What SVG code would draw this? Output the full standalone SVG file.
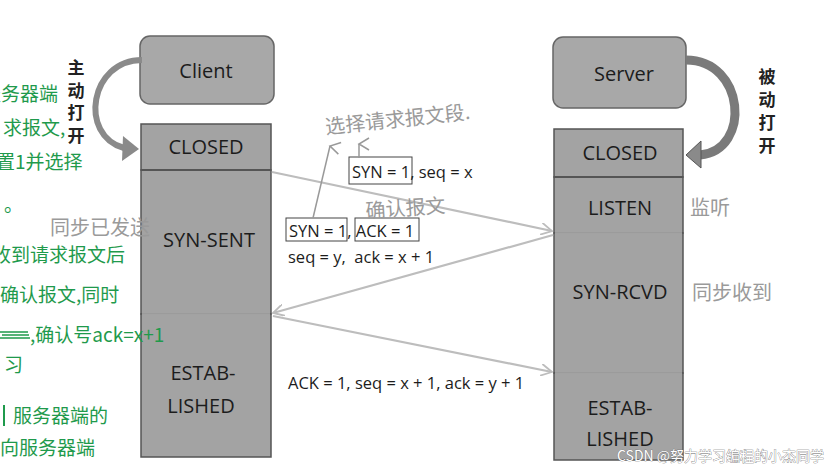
<svg xmlns="http://www.w3.org/2000/svg" width="839" height="473" viewBox="0 0 839 473">
<defs>
<style>
.box{fill:#a8a8a8;stroke:#666;stroke-width:1.5}
.col{fill:#a3a3a3;stroke:#555;stroke-width:1.5}
.dark{stroke:#555;stroke-width:2}
.light{stroke:#dcdcdc;stroke-width:1.2}
.st{font-family:"Open Sans","Liberation Sans",sans-serif;font-size:20px;fill:#1c1c1c;text-anchor:middle}
.lbl{font-family:"Open Sans","Liberation Sans",sans-serif;font-size:16.5px;fill:#1c1c1c}
.cn{font-family:"Noto Sans CJK SC",sans-serif;font-size:17px;font-weight:bold;fill:#222;text-anchor:middle}
.gr{font-family:"Noto Sans CJK SC",sans-serif;font-size:19px;fill:#1f9a4c}
.hw{font-family:"Noto Sans CJK SC",sans-serif;font-size:20px;fill:#9a9a9a}
.conn{stroke:#bdbdbd;stroke-width:2.2;fill:none}
.tag{fill:none;stroke:#444;stroke-width:1}
</style>
<marker id="ah" viewBox="0 0 12 12" refX="11" refY="6" markerWidth="12" markerHeight="12" markerUnits="userSpaceOnUse" orient="auto">
<path d="M0,0 L11,6 L0,12" fill="none" stroke="#bdbdbd" stroke-width="1.8"/>
</marker>
<marker id="ph" viewBox="0 0 14 14" refX="7" refY="2" markerWidth="14" markerHeight="14" markerUnits="userSpaceOnUse" orient="auto-start-reverse">
<path d="M1,12 L7,2 L13,12" fill="none" stroke="#999" stroke-width="1.5"/>
</marker>
</defs>
<rect width="839" height="473" fill="#fff"/>

<g id="client">
<rect class="box" x="140" y="36" width="134" height="68" rx="10"/>
<text class="st" x="206" y="78" font-size="22">Client</text>
</g>
<g id="client-closed">
<rect class="col" x="141" y="124" width="130" height="46"/>
<text class="st" x="206" y="154">CLOSED</text>
</g>
<g id="client-synsent">
<rect class="col" x="141" y="170" width="130" height="144"/>
<text class="st" x="209" y="247">SYN-SENT</text>
</g>
<g id="client-established">
<rect class="col" x="141" y="314" width="130" height="143"/>
<text class="st" x="203" y="380">ESTAB-</text>
<text class="st" x="201" y="413">LISHED</text>
</g>
<line class="dark" x1="141" y1="170" x2="271" y2="170"/>
<line class="light" x1="142" y1="314" x2="270" y2="314"/>

<g id="server">
<rect class="box" x="553" y="37" width="133" height="71" rx="10"/>
<text class="st" x="624" y="81" font-size="22">Server</text>
</g>
<g id="server-closed">
<rect class="col" x="554" y="129" width="129" height="48"/>
<text class="st" x="620" y="160">CLOSED</text>
</g>
<g id="server-listen">
<rect class="col" x="554" y="177" width="129" height="56"/>
<text class="st" x="620" y="215">LISTEN</text>
</g>
<g id="server-synrcvd">
<rect class="col" x="554" y="233" width="129" height="140"/>
<text class="st" x="620" y="299">SYN-RCVD</text>
</g>
<g id="server-established">
<rect class="col" x="554" y="373" width="129" height="87"/>
<text class="st" x="620" y="415">ESTAB-</text>
<text class="st" x="620" y="446">LISHED</text>
</g>
<line class="dark" x1="554" y1="177" x2="683" y2="177"/>
<line class="light" x1="555" y1="233" x2="682" y2="233"/>
<line class="light" x1="555" y1="373" x2="682" y2="373"/>

<g id="open-arrows">
<path d="M142,60 C90,60 78,135 124,148" fill="none" stroke="#8a8a8a" stroke-width="6"/>
<polygon points="123,136 139,149 122,161" fill="#8a8a8a"/>
<path d="M686,60 C745,60 752,150 700,155" fill="none" stroke="#7a7a7a" stroke-width="9"/>
<polygon points="701,141 686,155 701,168" fill="#8a8a8a" stroke="#555" stroke-width="1"/>
</g>
<g id="open-labels">
<text class="cn" x="76" y="74">主</text>
<text class="cn" x="76" y="97">动</text>
<text class="cn" x="76" y="119">打</text>
<text class="cn" x="76" y="142">开</text>
<text class="cn" x="767" y="83">被</text>
<text class="cn" x="767" y="106">动</text>
<text class="cn" x="767" y="129">打</text>
<text class="cn" x="767" y="152">开</text>
</g>

<g id="connectors">
<line class="conn" x1="272" y1="172" x2="552" y2="231" marker-end="url(#ah)"/>
<line class="conn" x1="553" y1="235" x2="273" y2="313" marker-end="url(#ah)"/>
<line class="conn" x1="273" y1="316" x2="552" y2="372" marker-end="url(#ah)"/>
</g>

<g id="labels">
<rect class="tag" x="349" y="157" width="63" height="27"/>
<text class="lbl" x="352" y="178">SYN = 1, seq = x</text>
<rect class="tag" x="286" y="218" width="61" height="23"/>
<rect class="tag" x="355" y="218" width="64" height="23"/>
<text class="lbl" x="289" y="237">SYN = 1, ACK = 1</text>
<text class="lbl" x="288" y="263" xml:space="preserve">seq = y,  ack = x + 1</text>
<text class="lbl" x="288" y="389">ACK = 1, seq = x + 1, ack = y + 1</text>
</g>

<g id="pencil-notes">
<line x1="313" y1="218" x2="330" y2="146" stroke="#999" stroke-width="1.5" marker-end="url(#ph)"/>
<line x1="359" y1="158" x2="359" y2="144" stroke="#999" stroke-width="1.5" marker-end="url(#ph)"/>
<text class="hw" x="326" y="134" font-size="21" transform="rotate(-6 326 134)">选择请求报文段.</text>
<text class="hw" x="366" y="218" transform="rotate(-4 366 218)">确认报文</text>
<text class="hw" x="690" y="215" font-size="22">监听</text>
<text class="hw" x="692" y="300" font-size="22">同步收到</text>
<text class="hw" x="50" y="235" font-size="17">同步已发送</text>
</g>

<g id="green-notes">
<text class="gr" x="-18" y="101">服务器端</text>
<text class="gr" x="3" y="135">求报文,</text>
<text class="gr" x="-4" y="169">置1并选择</text>
<text class="gr" x="4" y="212">。</text>
<text class="gr" x="-8" y="262">收到请求报文后</text>
<text class="gr" x="0" y="302">确认报文,同时</text>
<path d="M0,332 L28,332 M0,338 L30,338 M2,335 L29,335" stroke="#1f9a4c" stroke-width="1.4"/>
<text class="gr" x="30" y="342" font-size="18">,确认号ack=x+1</text>
<text class="gr" x="4" y="372">习</text>
<line x1="4" y1="405" x2="4" y2="426" stroke="#1f9a4c" stroke-width="2"/>
<text class="gr" x="13" y="423">服务器端的</text>
<text class="gr" x="0" y="455">向服务器端</text>
</g>

<text x="617" y="461" font-family="Noto Sans CJK SC,sans-serif" font-size="14" fill="#fff" stroke="#666" stroke-width="0.6" paint-order="stroke">CSDN @努力学习编程的小杰同学</text>
</svg>
